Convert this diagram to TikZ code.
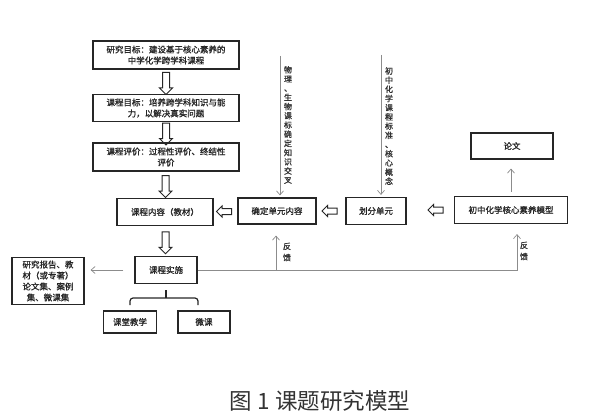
\documentclass[tikz,border=0pt]{standalone}
\usepackage{fontspec}
\setmainfont{Noto Sans CJK SC}[AutoFakeBold=1.2]
\usetikzlibrary{shapes.arrows,arrows.meta,calc}
\begin{document}
\begin{tikzpicture}[x=1pt, y=-1pt,
  box/.style={draw=black!85, line width=1.2pt, align=center, inner sep=1pt, text=black!85, font=\fontsize{8.5}{11}\selectfont\bfseries},
  hollow/.style={single arrow, draw=black!85, line width=1pt, inner sep=3pt, minimum width=12pt, minimum height=22pt, single arrow head extend=3pt, single arrow head indent=0pt},
  hollowside/.style={hollow, inner sep=2.5pt, minimum width=10pt, minimum height=15pt, single arrow head extend=2.5pt},
  grayline/.style={draw=black!45, line width=0.7pt, -{Straight Barb[length=4pt, width=7pt]}},
  note/.style={align=center, inner sep=0pt, text=black!80, font=\fontsize{8}{9.2}\selectfont\bfseries}]
\useasboundingbox (0,0) rectangle (600,420);
% left column
\node[box, minimum width=146pt, minimum height=28pt] (goal) at (166,55) {研究目标：建设基于核心素养的\\中学化学跨学科课程};
\node[box, minimum width=146pt, minimum height=27pt] (aim) at (166,108) {课程目标：培养跨学科知识与能\\力，以解决真实问题};
\node[box, minimum width=146pt, minimum height=28pt] (eval) at (166,157) {课程评价：过程性评价、终结性\\评价};
\node[box, minimum width=96pt, minimum height=27pt] (content) at (165,212) {课程内容（教材）};
\node[box, minimum width=62pt, minimum height=27pt] (impl) at (166,270) {课程实施};
\node[box, minimum width=72pt, minimum height=47pt] (output) at (48,281) {研究报告、教\\材（或专著）\\论文集、案例\\集、微课集};
\node[box, minimum width=53pt, minimum height=22pt] (class) at (130,322) {课堂教学};
\node[box, minimum width=52pt, minimum height=22pt] (micro) at (204,322) {微课};
% middle row
\node[box, minimum width=78pt, minimum height=26pt] (unitc) at (277,211) {确定单元内容};
\node[box, minimum width=60pt, minimum height=27pt] (divide) at (376,211) {划分单元};
\node[box, minimum width=113pt, minimum height=27pt] (model) at (511,210) {初中化学核心素养模型};
\node[box, minimum width=82pt, minimum height=26pt] (paper) at (512,146) {论文};
% hollow arrows
\node[hollow, rotate=-90] (h1) at ($(goal.south)!0.5!(aim.north)$) {};
\node[hollow, rotate=-90] (h2) at ($(aim.south)!0.5!(eval.north)$) {};
\node[hollow, rotate=-90] (h3) at ($(eval.south)!0.5!(content.north)$) {};
\node[hollow, rotate=-90] (h4) at ($(content.south)!0.5!(impl.north)$) {};
\node[hollowside, rotate=180] (h5) at ($(unitc.west)!0.5!(content.east)$) {};
\node[hollowside, rotate=180] (h6) at ($(divide.west)!0.5!(unitc.east)$) {};
\node[hollowside, rotate=180] (h7) at (437,210) {};
% standards
\coordinate (top1) at (280,56);
\coordinate (top2) at (381,55);
\draw[grayline, shorten >=2pt] (top1) -- (top1 |- unitc.north);
\draw[grayline, shorten >=2pt] (top2) -- (top2 |- divide.north);
\node[note] (std1) at (288,125) {物\\理\\、\\生\\物\\课\\标\\确\\定\\知\\识\\交\\叉};
\node[note] (std2) at (389,126) {初\\中\\化\\学\\课\\程\\标\\准\\、\\核\\心\\概\\念};
% feedback
\coordinate (fb1) at (276,270);
\coordinate (fb2) at (517,270);
\draw[grayline, shorten >=10pt] (impl.east) -- (fb2) -- (fb2 |- model.south);
\draw[grayline, shorten >=11pt] (fb1) -- (fb1 |- unitc.south);
\node[note] (fbl1) at (287,252) {反\\[2pt]馈};
\node[note] (fbl2) at (524,251) {反\\[2pt]馈};
% outputs
\draw[grayline, shorten <=4pt, shorten >=9pt] (model.north) -- (model.north |- paper.south);
\draw[grayline, shorten <=11pt, shorten >=6pt] (impl.west) -- (impl.west -| output.east);
\draw[draw=black!85, line width=1.2pt, rounded corners=3pt] (130,305) -- (130,298) -- (198,298) -- (198,305);
\draw[draw=black!85, line width=1.2pt] (166,290) -- (166,298);
\node[text=black!80, font=\fontsize{22.5}{26}\selectfont] (caption) at (320,401) {图 1 课题研究模型};
\end{tikzpicture}
\end{document}
